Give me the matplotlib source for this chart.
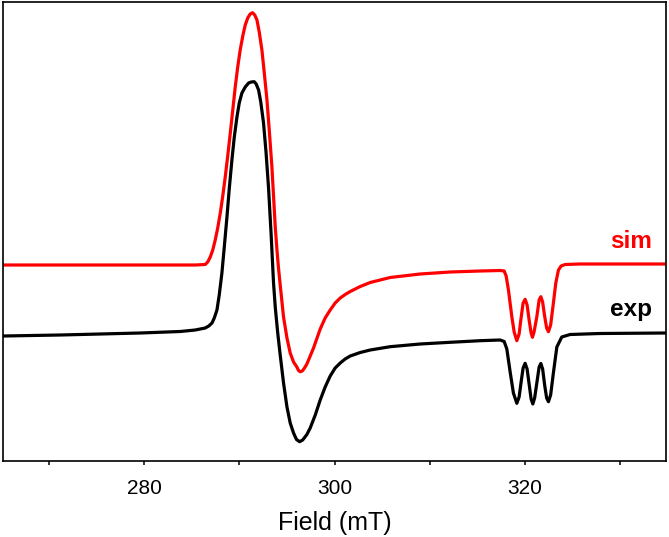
import matplotlib
matplotlib.use("Agg")
import matplotlib.pyplot as plt
from matplotlib.ticker import MultipleLocator

# ---- data ----
field_sim = [265.24, 275.41, 285.38, 286.43, 286.69, 286.96, 287.22, 287.48, 287.74, 288.01,
             288.27, 288.53, 288.79, 289.06, 289.32, 289.58, 289.84, 290.10, 290.37, 290.63,
             290.89, 291.15, 291.40, 291.63, 291.86, 292.10, 292.38, 292.62, 292.91, 293.15,
             293.43, 293.60, 293.78, 293.96, 294.12, 294.30, 294.65, 295.01, 295.35, 295.70,
             296.05, 296.22, 296.40, 296.61, 296.82, 297.10, 297.45, 297.80, 298.13, 298.50,
             299.02, 299.55, 300.07, 300.60, 301.12, 301.65, 302.70, 303.75, 305.84, 308.99,
             312.14, 315.29, 317.39, 317.81, 318.02, 318.26, 318.62, 318.86, 319.14, 319.38,
             319.56, 319.80, 320.01, 320.22, 320.43, 320.64, 320.78, 320.95, 321.24, 321.48,
             321.66, 321.85, 322.04, 322.27, 322.46, 322.69, 322.98, 323.23, 323.51, 323.79,
             324.21, 325.78, 334.81]
sim = [-0.01, -0.01, -0.01, -0.005, 0.02, 0.07, 0.14, 0.24, 0.36, 0.51,
       0.68, 0.87, 1.08, 1.31, 1.54, 1.77, 1.97, 2.14, 2.28, 2.39,
       2.46, 2.50, 2.513, 2.49, 2.44, 2.32, 2.14, 1.92, 1.64, 1.34,
       0.97, 0.68, 0.37, 0.14, -0.04, -0.21, -0.53, -0.74, -0.89, -0.98,
       -1.03, -1.065, -1.077, -1.07, -1.045, -1.00, -0.92, -0.84, -0.75, -0.65,
       -0.54, -0.46, -0.39, -0.34, -0.305, -0.275, -0.225, -0.185, -0.135, -0.10,
       -0.08, -0.07, -0.065, -0.07, -0.12, -0.26, -0.53, -0.68, -0.767, -0.70,
       -0.56, -0.39, -0.353, -0.41, -0.56, -0.69, -0.733, -0.68, -0.527, -0.36,
       -0.327, -0.38, -0.51, -0.64, -0.677, -0.61, -0.39, -0.19, -0.06, -0.02,
       -0.005, 0.0, 0.0]

field_exp = [265.24, 271.22, 275.41, 279.61, 283.81, 285.38, 286.43, 286.80, 287.14, 287.38,
             287.66, 287.90, 288.18, 288.43, 288.71, 288.95, 289.23, 289.48, 289.76, 290.00,
             290.28, 290.63, 290.98, 291.26, 291.57, 291.78, 292.03, 292.26, 292.55, 292.81,
             293.07, 293.34, 293.60, 293.78, 294.04, 294.30, 294.65, 295.01, 295.35, 295.70,
             296.01, 296.33, 296.66, 297.10, 297.45, 297.98, 298.50, 299.02, 299.55, 300.07,
             300.60, 301.12, 301.65, 302.70, 303.75, 305.84, 308.99, 312.14, 315.29, 317.39,
             317.81, 318.09, 318.44, 318.78, 319.14, 319.38, 319.59, 319.80, 320.01, 320.22,
             320.43, 320.64, 320.82, 321.01, 321.27, 321.48, 321.66, 321.85, 322.06, 322.27,
             322.46, 322.69, 322.95, 323.34, 323.86, 324.73, 327.88, 334.81]
exp = [-0.03, -0.02, -0.01, 0.0, 0.015, 0.03, 0.05, 0.07, 0.10, 0.15,
       0.23, 0.38, 0.60, 0.86, 1.16, 1.44, 1.73, 1.96, 2.16, 2.30,
       2.40, 2.46, 2.50, 2.51, 2.513, 2.49, 2.43, 2.31, 2.10, 1.81,
       1.46, 1.00, 0.50, 0.26, 0.00, -0.22, -0.50, -0.74, -0.90, -1.00,
       -1.065, -1.087, -1.07, -1.015, -0.95, -0.82, -0.67, -0.54, -0.43, -0.35,
       -0.30, -0.26, -0.23, -0.195, -0.17, -0.137, -0.11, -0.093, -0.077, -0.07,
       -0.085, -0.16, -0.39, -0.60, -0.703, -0.64, -0.49, -0.35, -0.303, -0.36,
       -0.51, -0.66, -0.71, -0.65, -0.48, -0.34, -0.305, -0.36, -0.52, -0.65,
       -0.687, -0.62, -0.42, -0.14, -0.04, -0.015, -0.005, 0.0]

sim_offset = 0.69
series_labels = ["sim", "exp"]
major_ticks = [280, 300, 320]
x_label = "Field (mT)"

plt.rcParams['font.family'] = ['Liberation Sans', 'DejaVu Sans']

fig = plt.figure(figsize=(6.69, 5.37), dpi=100)
ax = fig.add_axes([3/669, 1 - 461/537, 663/669, 459/537])

ax.plot(field_sim, [v + sim_offset for v in sim], color='#ff0000', lw=2.3,
        solid_joinstyle='round', solid_capstyle='round')
ax.plot(field_exp, exp, color='black', lw=2.3,
        solid_joinstyle='round', solid_capstyle='round')

ax.set_xlim(265.2, 334.8)
ax.set_ylim(-1.28, 3.31)

ax.set_xticks(major_ticks)
ax.xaxis.set_minor_locator(MultipleLocator(10))
ax.tick_params(axis='x', which='both', direction='out', length=3.2, width=1.1,
               labelsize=15, pad=10)
ax.set_yticks([])
for s in ax.spines.values():
    s.set_linewidth(1.2)

ax.set_xlabel(x_label, fontsize=18, labelpad=9)

ax.text(333.34, 0.85, series_labels[0], color='#ff0000', fontsize=17.5, fontweight='bold',
        ha='right', va='baseline')
ax.text(333.34, 0.173, series_labels[1], color='black', fontsize=17.5, fontweight='bold',
        ha='right', va='baseline')

fig.savefig("out.png", dpi=100)
